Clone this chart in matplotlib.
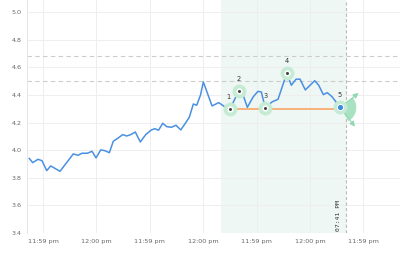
import matplotlib
matplotlib.use("Agg")
import matplotlib.pyplot as plt
from matplotlib.path import Path

# ---- data ----
t = [-0.257, -0.193, -0.094, -0.019, 0.069, 0.144, 0.318, 0.567, 0.655, 0.730,
     0.830, 0.918, 0.993, 1.080, 1.155, 1.242, 1.316, 1.391, 1.493, 1.567,
     1.642, 1.728, 1.822, 1.923, 2.022, 2.092, 2.163, 2.242, 2.316, 2.403,
     2.491, 2.579, 2.665, 2.740, 2.815, 2.878, 2.949, 3.002, 3.165, 3.290,
     3.414, 3.502, 3.665, 3.740, 3.826, 3.938, 4.026, 4.088, 4.163, 4.288,
     4.401, 4.564, 4.650, 4.738, 4.813, 4.912, 5.088, 5.163, 5.249, 5.324,
     5.412, 5.562]
values = [3.940, 3.910, 3.934, 3.924, 3.852, 3.886, 3.847, 3.973, 3.963, 3.978,
          3.978, 3.992, 3.944, 4.002, 3.997, 3.982, 4.065, 4.084, 4.113, 4.103,
          4.113, 4.132, 4.060, 4.113, 4.145, 4.156, 4.145, 4.195, 4.171, 4.166,
          4.181, 4.147, 4.195, 4.239, 4.335, 4.326, 4.400, 4.495, 4.321, 4.345,
          4.312, 4.297, 4.432, 4.408, 4.311, 4.388, 4.427, 4.422, 4.306, 4.350,
          4.369, 4.558, 4.471, 4.515, 4.515, 4.437, 4.504, 4.471, 4.403, 4.417,
          4.388, 4.311]
pattern_idx = [41, 42, 48, 51, 61]
pattern_labels = ["1", "2", "3", "4", "5"]
neckline = 4.30
levels = [4.68, 4.50]
shade_range = (3.333, 5.669)
marker_time = 5.669
marker_label = "07:41 PM"
tick_pos = [0, 1, 2, 3, 4, 5, 6]
tick_labels = ["11:59 pm", "12:00 pm", "11:59 pm", "12:00 pm", "11:59 pm", "12:00 pm", "11:59 pm"]
yticks = [3.4, 3.6, 3.8, 4.0, 4.2, 4.4, 4.6, 4.8, 5.0]

fig = plt.figure(figsize=(4, 2.56), dpi=100)
ax = fig.add_axes([0.0675, 0.09, 0.9325, 0.91])
ax.set_xlim(-0.30, 6.685)
ax.set_ylim(3.4, 5.089)

ax.set_yticks(yticks)
ax.set_yticklabels([f"{v:.1f}" for v in yticks])
ax.set_xticks(tick_pos)
ax.set_xticklabels(tick_labels)
ax.tick_params(length=0, labelsize=4.6, colors="#666666", pad=4)
ax.grid(True, color="#eeeeee", lw=0.7)
ax.set_axisbelow(True)
for s in ax.spines.values():
    s.set_visible(False)
ax.spines["left"].set_visible(True)
ax.spines["left"].set_color("#e6e6e6")
ax.spines["left"].set_linewidth(0.7)

ax.axvspan(*shade_range, color="#eef7f3", zorder=0.5, lw=0)
for lv in levels:
    ax.axhline(lv, color="#cccccc", lw=0.8, ls=(0, (4, 3)), zorder=1)
ax.axvline(marker_time, color="#bbbbbb", lw=0.8, ls=(0, (3, 2)), zorder=1)
ax.annotate(marker_label, xy=(marker_time, 3.4), xytext=(-3.5, 1.5), textcoords="offset points",
            rotation=90, ha="right", va="bottom", fontsize=4.6, color="#333333",
            family="DejaVu Sans Mono")

ax.plot(t, values, color="#4a90e2", lw=1.1, zorder=3)

x1, x5 = t[pattern_idx[0]], t[pattern_idx[-1]]
ax.plot([x1, x5], [neckline, neckline], color="#f7b27a", lw=1.4, zorder=2.5)

# wedge at last point
wedge = Path.wedge(-60, 40)
ax.plot([x5], [values[pattern_idx[-1]]], marker=wedge, ms=23, color="#a8e2c2",
        mec="none", zorder=2.6)
for dx, dy in [(15, 11.5), (12, -15.5)]:
    ax.annotate("", xy=(x5, values[pattern_idx[-1]]), xytext=(dx, dy), textcoords="offset points",
                arrowprops=dict(arrowstyle="<|-,head_length=0.3,head_width=0.15", color="#8fd9b0", lw=0.8),
                zorder=2.7)

for k, (i, lab) in enumerate(zip(pattern_idx, pattern_labels)):
    x, y = t[i], values[i]
    ax.plot([x], [y], "o", ms=10, color="#c5ebd4", mec="none", zorder=4)
    if k < 4:
        ax.plot([x], [y], "o", ms=4.5, color="white", mec="none", zorder=5)
        ax.plot([x], [y], "o", ms=2.2, color="#444444", mec="none", zorder=6)
    else:
        ax.plot([x], [y], "o", ms=4.5, color="#3f8be0", mec="white", mew=0.7, zorder=6)
    ax.annotate(lab, xy=(x, y), xytext=(-1 if k == 0 else 0, 8.6), textcoords="offset points",
                ha="center", va="center", fontsize=4.8, color="#333333", zorder=7)

fig.savefig("out.png", dpi=100)
